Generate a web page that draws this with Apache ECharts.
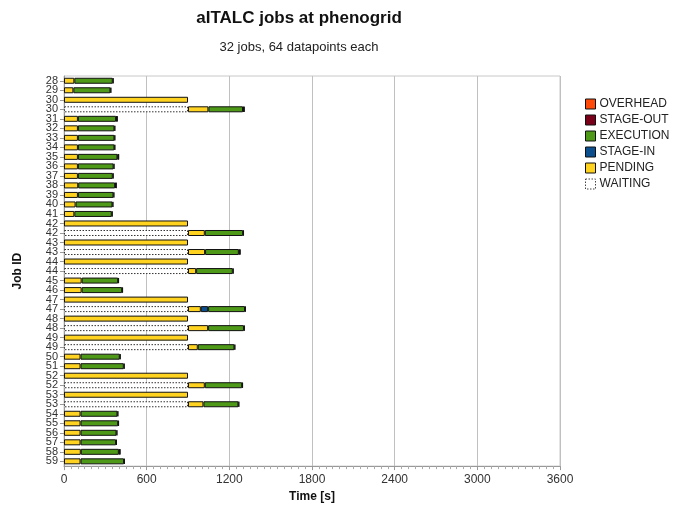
<!DOCTYPE html>
<html>
<head>
<meta charset="utf-8">
<script src="https://cdn.jsdelivr.net/npm/echarts@6/dist/echarts.min.js"></script>
<style>
  html, body { margin: 0; padding: 0; background: #fff; }
  #chart { width: 676px; height: 508px; }
</style>
</head>
<body>
<div id="chart"></div>
<script>
// job rows, top to bottom (resubmitted jobs appear twice)
const jobLabels = ['28', '29', '30', '30', '31', '32', '33', '34', '35', '36', '37', '38', '39', '40', '41',
  '42', '42', '43', '43', '44', '44', '45', '46', '47', '47', '48', '48', '49', '49', '50', '51',
  '52', '52', '53', '53', '54', '55', '56', '57', '58', '59']

// segment durations in seconds, one value per row
const waiting = [0, 0, 0, 900, 0, 0, 0, 0, 0, 0, 0, 0, 0, 0, 0,
  0, 900, 0, 900, 0, 900, 0, 0, 0, 900, 0, 900, 0, 900, 0, 0,
  0, 900, 0, 900, 0, 0, 0, 0, 0, 0]
const pending = [75, 68, 900, 148, 101, 101, 101, 101, 101, 101, 101, 103, 101, 84, 75,
  900, 122, 900, 124, 900, 59, 128, 128, 900, 93, 900, 146, 900, 71, 120, 120,
  900, 122, 900, 112, 120, 120, 120, 120, 122, 120]
const stageIn = [0, 0, 0, 0, 0, 0, 0, 0, 0, 0, 0, 0, 0, 0, 0,
  0, 0, 0, 0, 0, 0, 0, 0, 0, 53, 0, 0, 0, 0, 0, 0,
  0, 0, 0, 0, 0, 0, 0, 0, 0, 0]
const execution = [279, 269, 0, 251, 277, 265, 265, 265, 287, 259, 253, 268, 258, 268, 272,
  0, 278, 0, 245, 0, 266, 265, 294, 0, 268, 0, 260, 0, 266, 285, 314,
  0, 271, 0, 254, 268, 273, 261, 258, 276, 316]
const stageOut = [6, 6, 0, 6, 6, 6, 6, 6, 6, 6, 6, 6, 6, 6, 6,
  0, 6, 0, 6, 0, 6, 6, 6, 0, 6, 0, 6, 0, 6, 6, 6,
  0, 6, 0, 6, 6, 6, 6, 6, 6, 6]
const overhead = [0, 0, 0, 6, 5, 0, 0, 0, 5, 0, 0, 4, 0, 0, 0,
  0, 0, 0, 6, 0, 0, 0, 0, 0, 0, 0, 0, 0, 0, 0, 0,
  0, 0, 0, 0, 0, 0, 0, 0, 5, 0]

const xTicks = { min: 0, max: 3600, interval: 600 }

const segments = [
  { name: 'WAITING', data: waiting, color: '#ffffff', border: '#333', dotted: true },
  { name: 'PENDING', data: pending, color: '#ffd320' },
  { name: 'STAGE-IN', data: stageIn, color: '#0b4f8f' },
  { name: 'EXECUTION', data: execution, color: '#4e9a18' },
  { name: 'STAGE-OUT', data: stageOut, color: '#7a0019' },
  { name: 'OVERHEAD', data: overhead, color: '#ff4a0a' },
]

const legendOrder = ['OVERHEAD', 'STAGE-OUT', 'EXECUTION', 'STAGE-IN', 'PENDING', 'WAITING']

const chart = echarts.init(document.getElementById('chart'))

chart.setOption({
  animation: false,
  backgroundColor: '#fff',
  textStyle: { fontFamily: 'Liberation Sans, Arial, sans-serif' },
  title: {
    text: 'aITALC jobs at phenogrid',
    subtext: '32 jobs, 64 datapoints each',
    left: 294,
    textAlign: 'center',
    top: 5,
    itemGap: 14,
    textStyle: { fontSize: 17, fontWeight: 'bold', color: '#111' },
    subtextStyle: { fontSize: 13, color: '#222' },
  },
  legend: {
    orient: 'vertical',
    left: 580,
    top: 93,
    itemWidth: 10,
    itemHeight: 10,
    itemGap: 4,
    icon: 'rect',
    data: legendOrder.map((n) => n === 'WAITING'
      ? { name: n, itemStyle: { color: '#fff', borderColor: '#444', borderWidth: 1, borderType: [1.5, 1.5] } }
      : { name: n, itemStyle: { borderColor: '#111', borderWidth: 1 } }),
    textStyle: { fontSize: 12, color: '#222', padding: [0, 0, 0, -1] },
  },
  grid: {
    left: 64,
    right: 116,
    top: 76,
    bottom: 38,
    show: true,
    borderColor: '#c8c8c8',
    borderWidth: 1,
  },
  xAxis: {
    type: 'value',
    min: xTicks.min,
    max: xTicks.max,
    interval: xTicks.interval,
    name: 'Time [s]',
    nameLocation: 'middle',
    nameGap: 21,
    nameTextStyle: { fontSize: 12, fontWeight: 'bold', color: '#111' },
    axisLine: { show: true, lineStyle: { color: '#999' } },
    axisTick: { show: true, length: 4, lineStyle: { color: '#999' } },
    minorTick: { show: true, splitNumber: 12, length: 3, lineStyle: { color: '#aaa' } },
    axisLabel: { fontSize: 12, color: '#333', margin: 8, formatter: (v) => String(v) },
    splitLine: { show: true, lineStyle: { color: '#c0c0c0' } },
  },
  yAxis: {
    type: 'category',
    inverse: true,
    data: jobLabels.map((_, i) => String(i)),
    name: 'Job ID',
    nameLocation: 'middle',
    nameGap: 40,
    nameTextStyle: { fontSize: 12, fontWeight: 'bold', color: '#111' },
    axisLine: { show: true, lineStyle: { color: '#999' } },
    axisTick: { show: true, alignWithLabel: true, length: 4, lineStyle: { color: '#999' } },
    axisLabel: {
      fontSize: 11,
      color: '#333',
      margin: 6,
      interval: 0,
      formatter: (v) => jobLabels[Number(v)],
    },
    splitLine: { show: false },
  },
  series: segments.map((s) => ({
    name: s.name,
    type: 'bar',
    stack: 'job',
    barWidth: 6,
    data: s.data.map((v) => (v > 0 ? v : null)),
    itemStyle: {
      color: s.color,
      borderColor: s.border || '#111',
      borderWidth: 1,
      borderType: s.dotted ? [1.5, 1.5] : 'solid',
    },
  })),
})
</script>
</body>
</html>
